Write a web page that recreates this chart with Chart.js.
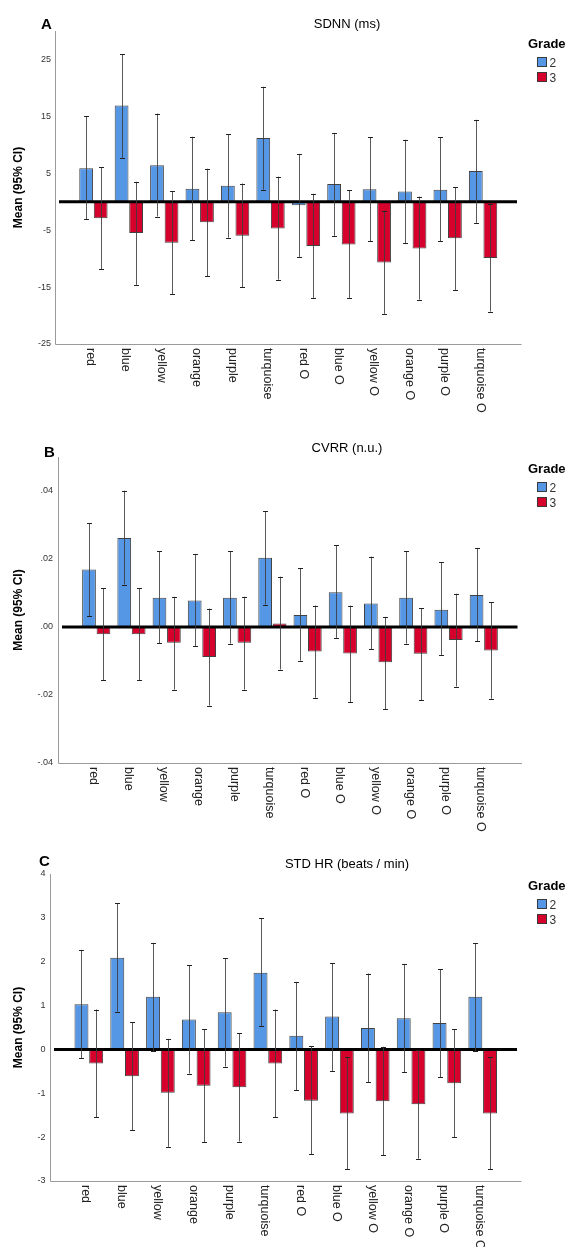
<!DOCTYPE html>
<html><head><meta charset="utf-8">
<script src="https://cdn.jsdelivr.net/npm/chart.js@4.4.1/dist/chart.umd.min.js"></script>
<style>
html,body{margin:0;padding:0;background:#fff;}
#wrap{position:relative;width:566px;height:1247px;overflow:hidden;background:#fff;}
canvas{position:absolute;left:0;}
</style></head><body>
<div id="wrap">
<canvas id="cA" width="566" height="425" style="top:0px"></canvas>
<canvas id="cB" width="566" height="425" style="top:425px"></canvas>
<canvas id="cC" width="566" height="397" style="top:850px"></canvas>
</div>
<script>
// ---------- data ----------
const categories = ['red','blue','yellow','orange','purple','turquoise','red O','blue O','yellow O','orange O','purple O','turquoise O'];
const gradeNames = ['2','3'];

// SDNN (ms)
const sdnnMean2 = [5.9, 16.9, 6.4, 2.3, 2.8, 11.2, -0.6, 3.1, 2.2, 1.8, 2.1, 5.4];
const sdnnLow2  = [-3.1, 7.7, -2.6, -6.8, -6.3, 2.1, -9.7, -6.0, -6.9, -7.3, -6.9, -3.7];
const sdnnHigh2 = [15.0, 25.9, 15.5, 11.4, 11.9, 20.2, 8.4, 12.1, 11.3, 10.9, 11.3, 14.4];
const sdnnMean3 = [-2.9, -5.5, -7.2, -3.6, -6.0, -4.7, -7.8, -7.5, -10.7, -8.2, -6.4, -9.9];
const sdnnLow3  = [-11.9, -14.6, -16.3, -13.1, -15.0, -13.7, -16.9, -16.9, -19.7, -17.2, -15.5, -19.3];
const sdnnHigh3 = [6.1, 3.5, 1.8, 5.8, 3.2, 4.4, 1.4, 2.0, -1.6, 0.9, 2.6, -0.4];
const sdnnTicks = [-25, -15, -5, 5, 15, 25];

// CVRR (n.u.)
const cvrrMean2 = [0.0169, 0.0262, 0.0086, 0.0078, 0.0086, 0.0204, 0.0035, 0.0102, 0.0069, 0.0086, 0.0051, 0.0094];
const cvrrLow2  = [0.0032, 0.0125, -0.0048, -0.0057, -0.0049, 0.0066, -0.0099, -0.0032, -0.0066, -0.0049, -0.0082, -0.0041];
const cvrrHigh2 = [0.0306, 0.0401, 0.0223, 0.0215, 0.0223, 0.0341, 0.0173, 0.0240, 0.0207, 0.0223, 0.0190, 0.0232];
const cvrrMean3 = [-0.0021, -0.0021, -0.0046, -0.0088, -0.0046, 0.0010, -0.0072, -0.0078, -0.0104, -0.0079, -0.0038, -0.0069];
const cvrrLow3  = [-0.0157, -0.0157, -0.0184, -0.0231, -0.0184, -0.0125, -0.0208, -0.0221, -0.0242, -0.0216, -0.0175, -0.0211];
const cvrrHigh3 = [0.0114, 0.0114, 0.0089, 0.0054, 0.0089, 0.0148, 0.0063, 0.0063, 0.0030, 0.0055, 0.0098, 0.0073];
const cvrrTicks = [-0.04, -0.02, 0, 0.02, 0.04];

// STD HR (beats / min)
const hrMean2 = [1.03, 2.09, 1.20, 0.68, 0.85, 1.75, 0.31, 0.75, 0.49, 0.71, 0.60, 1.20];
const hrLow2  = [-0.20, 0.86, -0.04, -0.55, -0.39, 0.53, -0.93, -0.49, -0.75, -0.52, -0.64, -0.04];
const hrHigh2 = [2.27, 3.33, 2.43, 1.92, 2.08, 2.99, 1.54, 1.97, 1.73, 1.95, 1.83, 2.42];
const hrMean3 = [-0.32, -0.61, -0.99, -0.83, -0.86, -0.32, -1.17, -1.46, -1.18, -1.25, -0.77, -1.46];
const hrLow3  = [-1.55, -1.84, -2.22, -2.12, -2.10, -1.55, -2.39, -2.73, -2.41, -2.49, -2.00, -2.73];
const hrHigh3 = [0.91, 0.62, 0.24, 0.46, 0.37, 0.91, 0.08, -0.17, 0.06, -0.01, 0.46, -0.17];
const hrTicks = [-3, -2, -1, 0, 1, 2, 3, 4];

// ---------- styling ----------
const FONT = '"Liberation Sans", Arial, Helvetica, sans-serif';
Chart.defaults.font.family = FONT;
const COL2 = 'rgb(85,150,229)';
const COL3 = 'rgb(213,0,44)';
const BAR_BORDER = 'rgba(55,55,55,0.95)';
const AXIS_COL = '#9a9a9a';

function fmtCvrr(v){
  if (Math.abs(v) < 1e-9) return '.00';
  const s = Math.abs(v).toFixed(2).replace(/^0/, '');
  return (v < 0 ? '-' : '') + s;
}

const panels = [
  { id:'cA', W:566, H:425, letter:'A', title:'SDNN (ms)',
    mean:[sdnnMean2, sdnnMean3], low:[sdnnLow2, sdnnLow3], high:[sdnnHigh2, sdnnHigh3],
    ticks:sdnnTicks, min:-25, max:30, fmt:v=>String(v),
    area:{left:58, right:518.5, top:31, bottom:344}, tickPad:7,
    titleY:28, letterX:41, letterY:29, legendY:48 },
  { id:'cB', W:566, H:425, letter:'B', title:'CVRR (n.u.)',
    mean:[cvrrMean2, cvrrMean3], low:[cvrrLow2, cvrrLow3], high:[cvrrHigh2, cvrrHigh3],
    ticks:cvrrTicks, min:-0.04, max:0.05, fmt:fmtCvrr,
    area:{left:61, right:519, top:32, bottom:338}, tickPad:8,
    titleY:27, letterX:44, letterY:31.5, legendY:48 },
  { id:'cC', W:566, H:397, letter:'C', title:'STD HR (beats / min)',
    mean:[hrMean2, hrMean3], low:[hrLow2, hrLow3], high:[hrHigh2, hrHigh3],
    ticks:hrTicks, min:-3, max:4, fmt:v=>String(v),
    area:{left:53, right:518.5, top:24, bottom:331}, tickPad:7.5,
    titleY:18, letterX:39, letterY:16, legendY:40 }
];

function makePlugin(p){
  return {
    id:'decor_'+p.id,
    afterDatasetsDraw(chart){
      const ctx = chart.ctx, ca = chart.chartArea;
      const ys = chart.scales.y;
      // zero reference line
      const y0 = ys.getPixelForValue(0);
      ctx.save();
      ctx.strokeStyle = '#000'; ctx.lineWidth = 3;
      ctx.beginPath(); ctx.moveTo(ca.left + 1, y0); ctx.lineTo(ca.right - 1.5, y0); ctx.stroke();
      // error bars
      ctx.lineWidth = 1;
      for (let d = 0; d < 2; d++){
        const meta = chart.getDatasetMeta(d);
        for (let i = 0; i < categories.length; i++){
          const el = meta.data[i+1];
          if (!el) continue;
          const x = Math.round(el.x) + 0.5;
          const yl = ys.getPixelForValue(p.low[d][i]);
          const yh = ys.getPixelForValue(p.high[d][i]);
          ctx.strokeStyle = 'rgba(60,60,60,0.85)';
          ctx.beginPath(); ctx.moveTo(x, yl); ctx.lineTo(x, yh); ctx.stroke();
          ctx.strokeStyle = '#222';
          ctx.beginPath();
          ctx.moveTo(x - 2.5, Math.round(yl) + 0.5); ctx.lineTo(x + 2.5, Math.round(yl) + 0.5);
          ctx.moveTo(x - 2.5, Math.round(yh) + 0.5); ctx.lineTo(x + 2.5, Math.round(yh) + 0.5);
          ctx.stroke();
        }
      }
      ctx.restore();
    },
    afterDraw(chart){
      const ctx = chart.ctx, ca = chart.chartArea;
      const xs = chart.scales.x;
      ctx.save();
      // axis lines
      ctx.strokeStyle = AXIS_COL; ctx.lineWidth = 1;
      const axX = Math.round(ca.left - 3) + 0.5;
      const axY = Math.round(ca.bottom) + 0.5;
      ctx.beginPath();
      ctx.moveTo(axX, ca.top); ctx.lineTo(axX, axY);
      ctx.lineTo(ca.right + 3, axY);
      ctx.stroke();
      // rotated category labels (reading top to bottom)
      ctx.fillStyle = '#222';
      ctx.font = '12.5px ' + FONT;
      ctx.textAlign = 'left'; ctx.textBaseline = 'middle';
      categories.forEach((c, i) => {
        const x = xs.getPixelForValue(i + 1) - 3;
        ctx.save();
        ctx.translate(x, ca.bottom + 4);
        ctx.rotate(Math.PI / 2);
        ctx.fillText(c, 0, 0);
        ctx.restore();
      });
      // y axis title
      ctx.save();
      ctx.fillStyle = '#000';
      ctx.font = 'bold 12px ' + FONT;
      ctx.textAlign = 'center'; ctx.textBaseline = 'middle';
      ctx.translate(19, (ca.top + ca.bottom) / 2);
      ctx.rotate(-Math.PI / 2);
      ctx.fillText('Mean (95% CI)', 0, 0);
      ctx.restore();
      // panel letter
      ctx.fillStyle = '#000';
      ctx.font = 'bold 15px ' + FONT;
      ctx.textAlign = 'left'; ctx.textBaseline = 'alphabetic';
      ctx.fillText(p.letter, p.letterX, p.letterY);
      // chart title
      ctx.font = '13px ' + FONT;
      ctx.textAlign = 'center';
      ctx.fillText(p.title, 347, p.titleY);
      // legend
      ctx.textAlign = 'left';
      ctx.font = 'bold 13px ' + FONT;
      ctx.fillText('Grade', 528, p.legendY);
      chart.data.datasets.forEach((ds, k) => {
        const top = Math.round(p.legendY + 9 + k * 14.5);
        ctx.fillStyle = ds.backgroundColor;
        ctx.fillRect(537, top, 10, 10);
        ctx.strokeStyle = BAR_BORDER; ctx.lineWidth = 1;
        ctx.strokeRect(537.5, top + 0.5, 9, 9);
        ctx.fillStyle = '#333';
        ctx.font = '12px ' + FONT;
        ctx.fillText(ds.label, 549.5, top + 10);
      });
      ctx.restore();
    }
  };
}

panels.forEach(p => {
  const labels = [''].concat(categories, ['']);
  const datasets = gradeNames.map((g, d) => ({
    label: g,
    data: [null].concat(p.mean[d], [null]),
    backgroundColor: d === 0 ? COL2 : COL3,
    borderColor: BAR_BORDER,
    borderWidth: 1,
    borderSkipped: false,
    categoryPercentage: 0.82,
    barPercentage: 0.95
  }));
  new Chart(document.getElementById(p.id), {
    type: 'bar',
    data: { labels, datasets },
    options: {
      responsive: false,
      animation: false,
      devicePixelRatio: 1,
      layout: { padding: { left: 0, top: p.area.top, right: p.W - p.area.right, bottom: p.H - p.area.bottom } },
      plugins: { legend: { display: false }, tooltip: { enabled: false }, title: { display: false } },
      scales: {
        x: {
          type: 'category', offset: false,
          grid: { display: false, drawTicks: false }, border: { display: false },
          ticks: { display: false },
          afterFit(s){ s.height = 0; }
        },
        y: {
          min: p.min, max: p.max,
          grid: { display: false, drawTicks: false }, border: { display: false },
          ticks: { font: { size: 9, family: FONT }, color: '#333', padding: p.tickPad, callback: v => p.fmt(v) },
          afterBuildTicks(s){ s.ticks = p.ticks.map(v => ({ value: v })); },
          afterFit(s){ s.width = p.area.left; }
        }
      }
    },
    plugins: [makePlugin(p)]
  });
});
</script>
</body></html>
